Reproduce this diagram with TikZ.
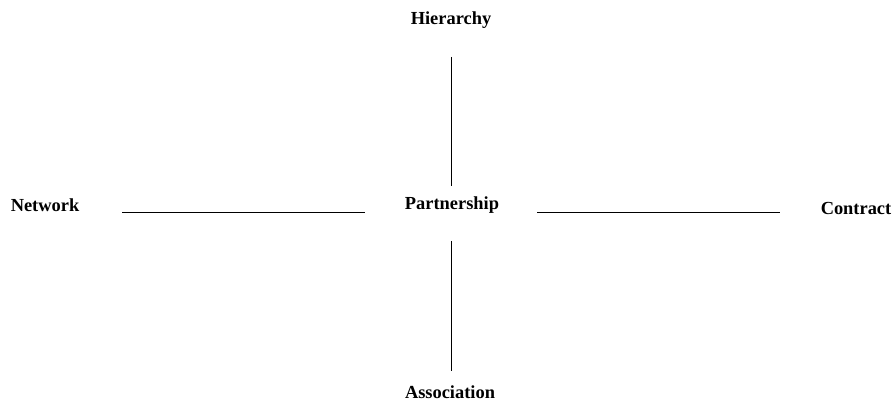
\documentclass[tikz,border=0pt]{standalone}
\usepackage{fontspec}
\setmainfont{Liberation Serif}
\tikzset{
	label/.style={font=\fontsize{13.8}{16}\selectfont\bfseries, inner sep=0pt},
	axis/.style={line width=0.75pt}
}
\begin{document}
\begin{tikzpicture}[x=0.75pt, y=-0.75pt]
	\useasboundingbox (0,0) rectangle (895,402);

	\node[label] (hier) at (451,20) {Hierarchy};
	\node[label] (net) at (45,205) {Network};
	\node[label] (part) at (452,205) {Partnership};
	\node[label] (con) at (856,209) {Contract};
	\node[label] (assoc) at (450,392) {Association};

	\path
	(451, 57) coordinate (V1)
	(451,186) coordinate (V2)
	(451,241) coordinate (V3)
	(451,371) coordinate (V4)
	(122,213) coordinate (H1)
	(365,213) coordinate (H2)
	(537,213) coordinate (H3)
	(780,213) coordinate (H4);

	\draw[axis]
	(V1)--(V2)
	(V3)--(V4)
	(H1)--(H2)
	(H3)--(H4);
\end{tikzpicture}
\end{document}
